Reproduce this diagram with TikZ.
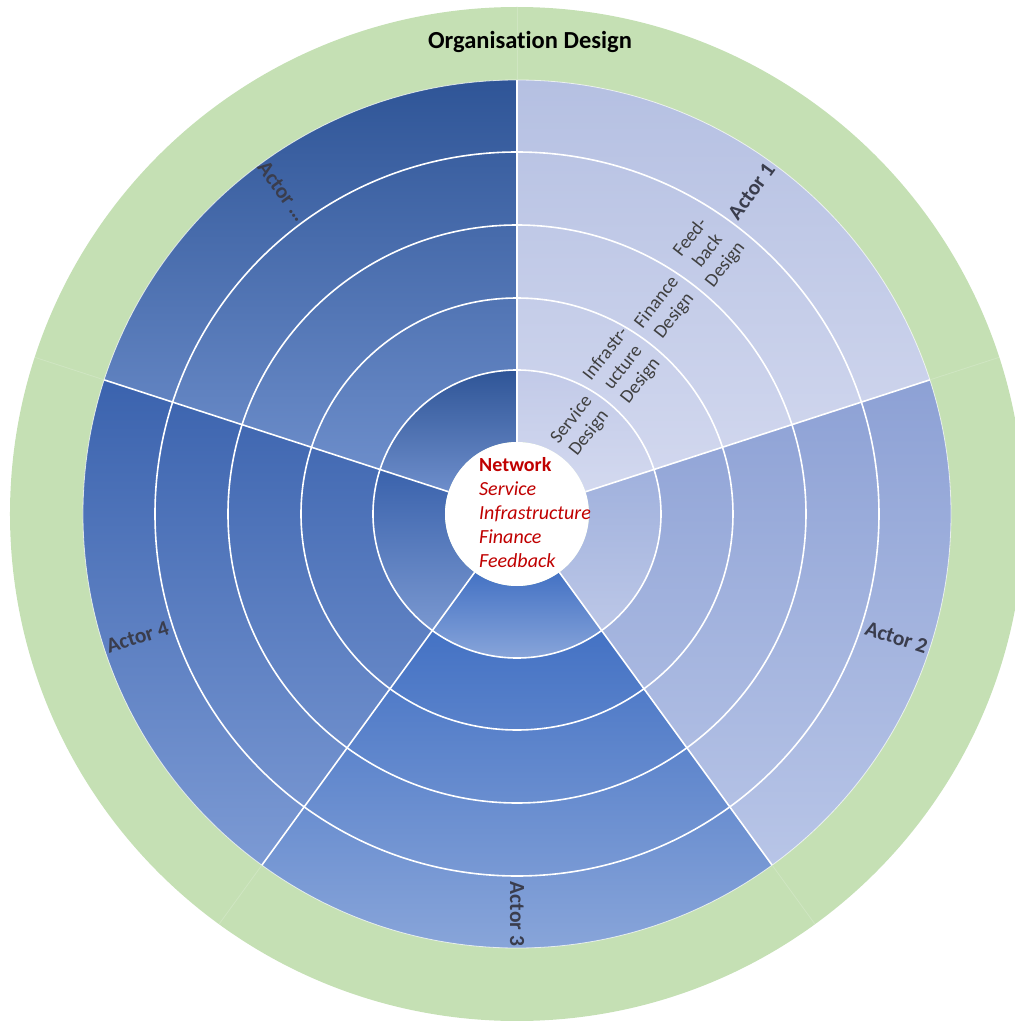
\documentclass[tikz,border=0pt]{standalone}
\usepackage{fontspec}
\setmainfont{Carlito}[Ligatures=NoCommon]
\definecolor{ringgreen}{HTML}{C5E0B4}
\definecolor{netred}{HTML}{C00000}
\definecolor{labelgray}{HTML}{404040}
\definecolor{actorgray}{HTML}{3A3D4D}
% sector colours (top, bottom)
\definecolor{aXt}{HTML}{2F5597}\definecolor{aXb}{HTML}{6C8DCA}
\definecolor{aFt}{HTML}{3B63AE}\definecolor{aFb}{HTML}{7C9AD4}
\definecolor{aTt}{HTML}{4472C4}\definecolor{aTb}{HTML}{8EA9DB}
\definecolor{aSt}{HTML}{8DA1D5}\definecolor{aSb}{HTML}{B8C5E7}
\definecolor{aOt}{HTML}{B5C0E2}\definecolor{aOb}{HTML}{D1D7EE}
% inner ring colours
\definecolor{iXt}{HTML}{2F5597}\definecolor{iXb}{HTML}{6E8ECB}
\definecolor{iFt}{HTML}{3A62AC}\definecolor{iFb}{HTML}{7A98D0}
\definecolor{iTt}{HTML}{4472C4}\definecolor{iTb}{HTML}{8FAADC}
\definecolor{iSt}{HTML}{A0B1DD}\definecolor{iSb}{HTML}{BCC7E7}
\definecolor{iOt}{HTML}{C2CAE8}\definecolor{iOb}{HTML}{D3D9EF}
\newcommand\annsec[6]{%
  \shade[top color=#5,bottom color=#6]
    (#1:#3) arc[start angle=#1,end angle=#2,radius=#3]
    -- (#2:#4) arc[start angle=#2,end angle=#1,radius=#4] -- cycle;}
\tikzset{
  divider/.style={white, line width=1.6pt},
  faintdiv/.style={white, opacity=0.18, line width=0.8pt},
  actorlabel/.style={font=\fontsize{21.5}{25}\selectfont\bfseries, text=actorgray, inner sep=0pt},
  designlabel/.style={font=\fontsize{19}{22}\selectfont, text=labelgray, align=center, inner sep=0pt, rotate=52},
  titlelabel/.style={font=\fontsize{24.5}{28}\selectfont\bfseries, text=black, inner sep=0pt},
  netlabel/.style={font=\fontsize{20}{24}\selectfont, text=netred, align=left, inner sep=0pt}
}
\begin{document}
\begin{tikzpicture}[x=1pt,y=1pt]
\useasboundingbox (-517,-507) rectangle (498,514);
\begin{scope}
\clip (-517,-507) rectangle (498,514);
% green outer ring
\fill[ringgreen] (0,0) circle (507);
% outer parts of sectors
\annsec{18}{90}{144}{434}{aOt}{aOb}
\annsec{90}{162}{144}{434}{aXt}{aXb}
\annsec{162}{234}{144}{434}{aFt}{aFb}
\annsec{234}{306}{144}{434}{aTt}{aTb}
\annsec{-54}{18}{144}{434}{aSt}{aSb}
% inner ring
\annsec{18}{90}{72}{144}{iOt}{iOb}
\annsec{90}{162}{72}{144}{iXt}{iXb}
\annsec{162}{234}{72}{144}{iFt}{iFb}
\annsec{234}{306}{72}{144}{iTt}{iTb}
\annsec{-54}{18}{72}{144}{iSt}{iSb}
% ring dividers
\foreach \r in {144,216,289,362} \draw[divider] (0,0) circle (\r);
\draw[white, line width=0.8pt, opacity=0.7] (0,0) circle (434);
\foreach \a in {18,90,162,234,306} {
  \draw[divider] (\a:72) -- (\a:434);
  \draw[faintdiv] (\a:435) -- (\a:507);
}
% centre
\fill[white] (0,0) circle (72);
\end{scope}
% texts
\node[titlelabel] (title) at (13,472) {Organisation Design};
\node[netlabel, anchor=west] (net) at (-38,1)
  {\textbf{Network}\\\textit{Service}\\\textit{Infrastructure}\\\textit{Finance}\\\textit{Feedback}};
\node[actorlabel, rotate=54] (a1) at (54:399) {Actor 1};
\node[actorlabel, rotate=-18] (a2) at (-18:399) {Actor 2};
\node[actorlabel, rotate=-90] (a3) at (-90:400) {Actor 3};
\node[actorlabel, rotate=18] (a4) at (198:399) {Actor 4};
\node[actorlabel, rotate=-54] (a5) at (126:399) {Actor \dots};
\node[designlabel] (sd) at (54:108) {Service\\Design};
\node[designlabel] (id) at (54:181) {Infrastr-\\ucture\\Design};
\node[designlabel] (fd) at (54:253) {Finance\\Design};
\node[designlabel] (fbd) at (54:325) {Feed-\\back\\Design};
\end{tikzpicture}
\end{document}
